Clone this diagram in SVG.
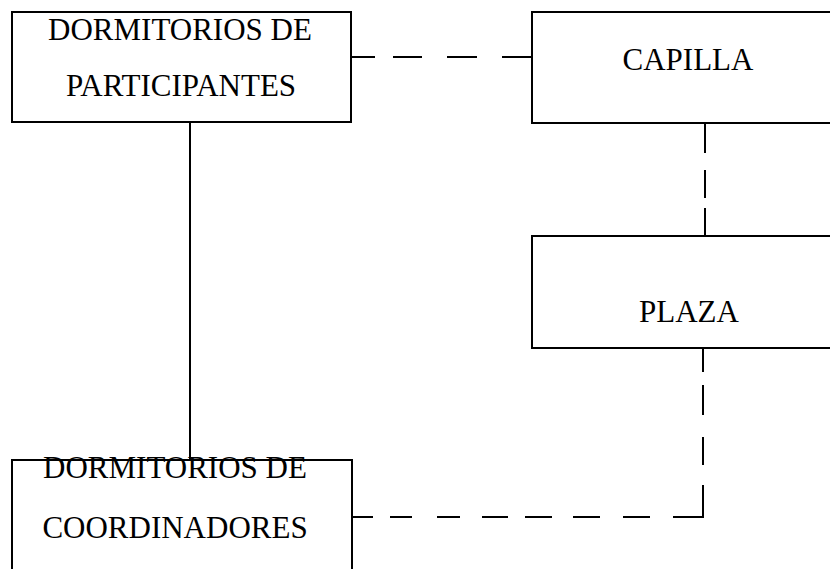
<svg xmlns="http://www.w3.org/2000/svg" width="830" height="569" viewBox="0 0 830 569">
<style>
.box{fill:#fff;stroke:#000;stroke-width:2}
.t{font-family:"Liberation Serif","Times New Roman",serif;font-size:31px;fill:#000;text-anchor:middle}
.c{fill:none;stroke:#000;stroke-width:2}
.d{stroke-dasharray:28 25}
</style>
<rect width="830" height="569" fill="#fff"/>
<g id="connectors">
<line class="c" x1="190" y1="122" x2="190" y2="460"/>
<path class="c" d="M352 57 H375 M393 57 H422 M447 57 H477 M502 57 H532"/>
<path class="c" d="M705 123 V153 M705 170 V198 M705 208 V236"/>
<path class="c" d="M703 348 V372 M703 385 V415 M703 437 V465 M703 485 V517 H673 M650 517 H623 M600 517 H573 M552 517 H525 M508 517 H482 M460 517 H437 M412 517 H390 M373 517 H352"/>
</g>
<g id="dorm-participantes">
<rect class="box" x="12" y="12" width="339" height="110"/>
<text class="t" x="180" y="40">DORMITORIOS DE</text>
<text class="t" x="181" y="96">PARTICIPANTES</text>
</g>
<g id="capilla">
<rect class="box" x="532" y="12" width="320" height="111"/>
<text class="t" x="688" y="70">CAPILLA</text>
</g>
<g id="plaza">
<rect class="box" x="532" y="236" width="320" height="112"/>
<text class="t" x="689" y="322">PLAZA</text>
</g>
<g id="dorm-coordinadores">
<rect class="box" x="12" y="460" width="340" height="130"/>
<text class="t" x="175" y="478">DORMITORIOS DE</text>
<text class="t" x="175" y="538">COORDINADORES</text>
</g>
</svg>
